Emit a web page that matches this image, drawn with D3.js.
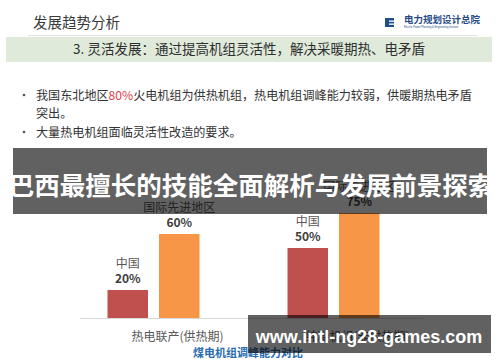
<!DOCTYPE html>
<html>
<head>
<meta charset="utf-8">
<script src="https://cdn.jsdelivr.net/npm/d3@7"></script>
<style>
  body { margin: 0; background: #fff; }
  svg { display: block; }
</style>
</head>
<body>
<svg id="svg" width="500" height="362"></svg>
<script>
// data
const categories = ["热电联产(供热期)", "纯凝机组(非供热期)"];
const seriesNames = ["中国", "国际先进地区"];
const china = [20, 50];
const advanced = [60, 75];
const seriesColors = ["#c0504d", "#f79646"];

const cjk = "'Noto Sans CJK SC', 'Noto Sans', sans-serif";
const svg = d3.select("#svg");

// page header
svg.append("text").attr("x", 33).attr("y", 28).style("font-size", 14.5).style("fill", "#3a3a3a")
    .style("font-family", cjk).text("发展趋势分析");
svg.append("line").attr("x1", 28).attr("x2", 478).attr("y1", 35.5).attr("y2", 35.5)
    .attr("stroke", "#e2e2e2").attr("stroke-width", 1);

// logo
svg.append("rect").attr("x", 385).attr("y", 18).attr("width", 9).attr("height", 9).attr("fill", "#1f4e8c");
svg.append("rect").attr("x", 389).attr("y", 20.5).attr("width", 5).attr("height", 1.3).attr("fill", "#fff");
svg.append("rect").attr("x", 389).attr("y", 23.5).attr("width", 5).attr("height", 1.3).attr("fill", "#fff");
svg.append("text").attr("x", 404).attr("y", 22.5).style("font-size", 9.5).style("font-weight", 700)
    .style("fill", "#274a86").style("font-family", cjk).text("电力规划设计总院");
svg.append("text").attr("x", 404).attr("y", 27.5).style("font-size", 2.6)
    .style("fill", "#274a86").style("font-family", "'Liberation Sans', sans-serif")
    .text("Electric Power Planning & Engineering Institute");

// green band
svg.append("rect").attr("x", 6).attr("y", 37).attr("width", 486).attr("height", 25).attr("fill", "#dfeadb");
svg.append("text").attr("x", 249).attr("y", 54).attr("text-anchor", "middle").style("font-size", 13.5)
    .style("fill", "#2e2e2e").style("font-family", cjk).text("3. 灵活发展：通过提高机组灵活性，解决采暖期热、电矛盾");

// bullets
const b1 = svg.append("text").attr("x", 36).attr("y", 99.5).style("font-size", 12.1)
    .style("fill", "#333").style("font-family", cjk);
b1.append("tspan").text("我国东北地区");
b1.append("tspan").style("fill", "#e0404a").text("80%");
b1.append("tspan").text("火电机组为供热机组，热电机组调峰能力较弱，供暖期热电矛盾");
svg.append("text").attr("x", 36).attr("y", 117.5).style("font-size", 12.1)
    .style("fill", "#333").style("font-family", cjk).text("突出。");
svg.append("text").attr("x", 36).attr("y", 136.5).style("font-size", 12.1)
    .style("fill", "#333").style("font-family", cjk).text("大量热电机组面临灵活性改造的要求。");
[95, 132].forEach(y => {
    svg.append("circle").attr("cx", 24).attr("cy", y).attr("r", 1.3).attr("fill", "#555");
});

// chart
const x0 = d3.scaleBand().domain(categories).range([63.5, 423.5]);
const x1 = d3.scaleBand().domain(seriesNames).range([44, 136]).paddingInner(0.2136);
const y = d3.scaleLinear().domain([0, 100]).range([318, 178]);

const rows = categories.map((c, i) => ({ cat: c, vals: [china[i], advanced[i]] }));

const groups = svg.selectAll("g.grp").data(rows).join("g").attr("class", "grp")
    .attr("transform", d => "translate(" + x0(d.cat) + ",0)");

groups.selectAll("rect").data(d => d.vals.map((v, j) => ({ v: v, s: seriesNames[j], j: j })))
    .join("rect")
    .attr("x", d => x1(d.s)).attr("width", x1.bandwidth())
    .attr("y", d => y(d.v)).attr("height", d => y(0) - y(d.v))
    .attr("fill", d => seriesColors[d.j]);

groups.selectAll("text.sname").data(d => d.vals.map((v, j) => ({ v: v, s: seriesNames[j] })))
    .join("text").attr("class", "sname")
    .attr("x", d => x1(d.s) + x1.bandwidth() / 2).attr("y", d => y(d.v) - 22)
    .attr("text-anchor", "middle").style("font-size", 12).style("fill", "#595959")
    .style("font-family", cjk).text(d => d.s);

groups.selectAll("text.val").data(d => d.vals.map((v, j) => ({ v: v, s: seriesNames[j] })))
    .join("text").attr("class", "val")
    .attr("x", d => x1(d.s) + x1.bandwidth() / 2).attr("y", d => y(d.v) - 7)
    .attr("text-anchor", "middle").style("font-size", 12).style("font-weight", 700).style("fill", "#404040")
    .style("font-family", cjk).text(d => d.v + "%");

svg.append("line").attr("x1", 80).attr("x2", 423).attr("y1", y(0) + 0.5).attr("y2", y(0) + 0.5)
    .attr("stroke", "#d9d9d9").attr("stroke-width", 1);

svg.selectAll("text.cat").data(categories).join("text").attr("class", "cat")
    .attr("x", d => x0(d) + x0.bandwidth() / 2 + 24).attr("y", 340.5)
    .attr("text-anchor", "middle").style("font-size", 12).style("fill", "#595959")
    .style("font-family", cjk).text(d => d);

svg.append("text").attr("x", 248).attr("y", 357).attr("text-anchor", "middle")
    .style("font-size", 11).style("font-weight", 700).style("fill", "#2b6cb0")
    .style("font-family", cjk).text("煤电机组调峰能力对比");

// overlay banners
svg.append("rect").attr("x", 13).attr("y", 148).attr("width", 474).attr("height", 66)
    .attr("fill", "#000").attr("fill-opacity", 0.62);
svg.append("text").attr("x", 251).attr("y", 194.5).attr("text-anchor", "middle")
    .style("font-size", 25.5).style("font-weight", 700).style("fill", "#fff")
    .style("font-family", cjk).text("巴西最擅长的技能全面解析与发展前景探索");

svg.append("rect").attr("x", 248).attr("y", 315).attr("width", 243).attr("height", 38)
    .attr("fill", "#000").attr("fill-opacity", 0.62);
svg.append("text").attr("x", 369).attr("y", 342.5).attr("text-anchor", "middle")
    .style("font-size", 18).style("font-weight", 700).style("fill", "#fff")
    .style("font-family", "'Liberation Sans', Arial, sans-serif").text("www.intl-ng28-games.com");
</script>
</body>
</html>
